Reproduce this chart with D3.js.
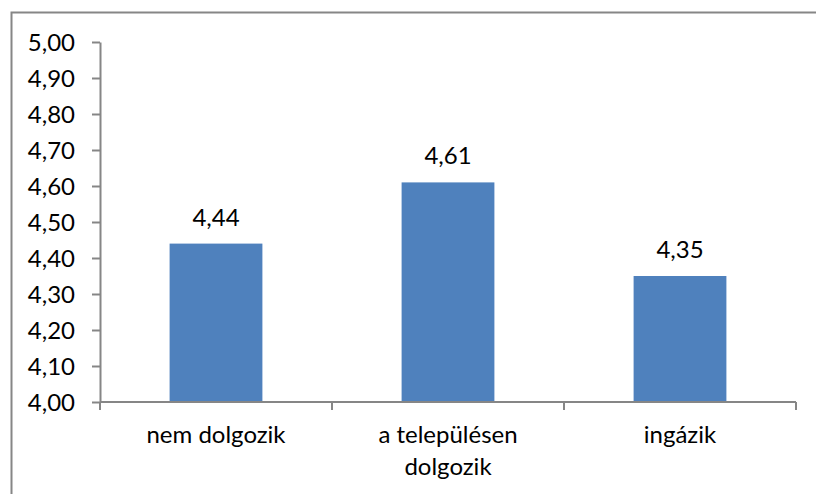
<!DOCTYPE html>
<html>
<head>
<meta charset="utf-8">
<script src="https://cdn.jsdelivr.net/npm/d3@7"></script>
<style>
  body { margin: 0; background: #fff; }
  #chart text { font-family: Lato, "Open Sans", sans-serif; fill: #000; }
</style>
</head>
<body>
<div id="chart"></div>
<script>
// data
const categories = [["nem dolgozik"], ["a településen", "dolgozik"], ["ingázik"]];
const values = [4.44, 4.61, 4.35];
const yTicks = [4.0, 4.1, 4.2, 4.3, 4.4, 4.5, 4.6, 4.7, 4.8, 4.9, 5.0];

const width = 816;
const height = 494;
const fontSize = 24;

const svg = d3.select('#chart')
    .append('svg')
    .attr('width', width)
    .attr('height', height);

// outer frame, runs off right and bottom edge like in the original
svg.append('rect')
    .attr('x', 11.5)
    .attr('y', 12.5)
    .attr('width', 830)
    .attr('height', 500)
    .attr('fill', 'none')
    .attr('stroke', '#868686')
    .attr('stroke-width', 2);

const fmt = d => d.toFixed(2).replace('.', ',');

const x = d3.scaleBand()
    .domain(d3.range(categories.length))
    .range([100, 796])
    .paddingInner(0.6)
    .paddingOuter(0.3);

const y = d3.scaleLinear()
    .domain([4, 5])
    .range([402, 42]);

// bars
svg.selectAll('rect.bar')
    .data(values)
    .enter()
    .append('rect')
    .attr('class', 'bar')
    .attr('x', (d, i) => x(i))
    .attr('y', d => y(d))
    .attr('width', x.bandwidth())
    .attr('height', d => y(4) - y(d))
    .attr('fill', '#4F81BD');

// value labels
svg.selectAll('text.val')
    .data(values)
    .enter()
    .append('text')
    .attr('class', 'val')
    .attr('x', (d, i) => x(i) + x.bandwidth() / 2)
    .attr('y', d => y(d) - 18)
    .attr('text-anchor', 'middle')
    .attr('font-size', fontSize)
    .text(fmt);

// y axis
const yAxis = svg.append('g')
    .attr('transform', 'translate(100,0)')
    .call(d3.axisLeft(y).tickValues(yTicks).tickFormat(fmt).tickSize(8).tickPadding(17).tickSizeOuter(0));

// x axis: ticks at category boundaries
const bounds = d3.range(categories.length + 1).map(i => 100 + i * (696 / categories.length));
const xAxis = svg.append('g');
xAxis.append('line')
    .attr('x1', 100).attr('x2', 796)
    .attr('y1', 402).attr('y2', 402);
xAxis.selectAll('line.tick')
    .data(bounds)
    .enter()
    .append('line')
    .attr('class', 'tick')
    .attr('x1', d => d).attr('x2', d => d)
    .attr('y1', 402).attr('y2', 410);

[yAxis, xAxis].forEach(g => {
    g.selectAll('path, line').attr('stroke', '#868686').attr('stroke-width', 2);
    g.selectAll('text').attr('font-size', fontSize).attr('font-family', null).attr('fill', '#000');
});
yAxis.selectAll('text').attr('dy', '0.35em');

// category labels
const cat = svg.selectAll('text.cat')
    .data(categories)
    .enter()
    .append('text')
    .attr('class', 'cat')
    .attr('text-anchor', 'middle')
    .attr('font-size', fontSize);

cat.selectAll('tspan')
    .data((d, i) => d.map(t => ({ t: t, i: i })))
    .enter()
    .append('tspan')
    .attr('x', d => x(d.i) + x.bandwidth() / 2)
    .attr('y', (d, j) => 443 + j * 32)
    .text(d => d.t);
</script>
</body>
</html>
